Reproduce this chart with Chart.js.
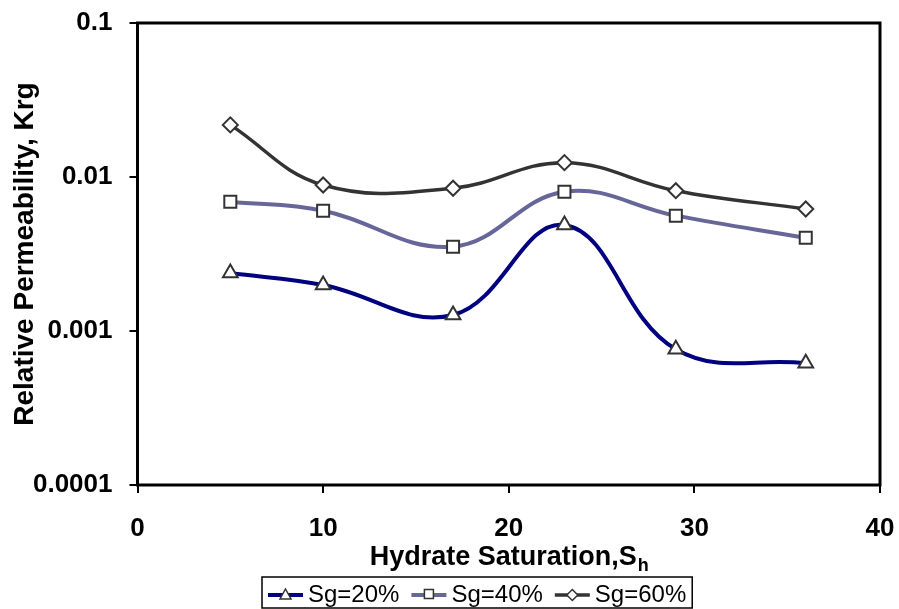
<!DOCTYPE html>
<html>
<head>
<meta charset="utf-8">
<script src="https://cdn.jsdelivr.net/npm/chart.js@4.4.0/dist/chart.umd.min.js"></script>
<style>
  html, body { margin: 0; padding: 0; background: #fff; }
  canvas { display: block; }
</style>
</head>
<body>
<canvas id="krg" width="899" height="609"></canvas>
<script>
// values
const hydrateSat = [5, 10, 17, 23, 29, 36];
const krgSg20 = [0.00238, 0.00199, 0.00127, 0.00488, 0.000761, 0.000617];
const krgSg40 = [0.00691, 0.00604, 0.00353, 0.00803, 0.00561, 0.00403];
const krgSg60 = [0.0218, 0.00887, 0.00845, 0.01239, 0.00815, 0.0062];
const yTicks = [0.0001, 0.001, 0.01, 0.1];
const xTicks = [0, 10, 20, 30, 40];
const seriesNames = ['Sg=20%', 'Sg=40%', 'Sg=60%'];

const FONT = "'Liberation Sans', Arial, sans-serif";

function toPoints(ys) {
    return hydrateSat.map((x, i) => ({ x: x, y: ys[i] }));
}

function series(label, ys, color, width, marker, radius) {
    return {
        label: label,
        data: toPoints(ys),
        borderColor: color,
        borderWidth: width,
        pointStyle: marker,
        pointRadius: radius,
        pointHoverRadius: radius,
        pointBackgroundColor: '#fff',
        pointBorderColor: '#333',
        pointBorderWidth: 2,
        tension: 0.4,
        fill: false
    };
}

// frame round the plot area + x title with subscript
const framePlugin = {
    id: 'frame',
    afterDraw(chart) {
        const { ctx, chartArea: a } = chart;
        ctx.save();
        ctx.strokeStyle = '#000';
        ctx.lineWidth = 3;
        ctx.strokeRect(a.left, a.top, a.right - a.left, a.bottom - a.top);

        // x axis title
        ctx.fillStyle = '#000';
        ctx.textBaseline = 'alphabetic';
        ctx.font = 'bold 27px ' + FONT;
        const main = 'Hydrate Saturation,S';
        const wMain = ctx.measureText(main).width;
        ctx.font = 'bold 18px ' + FONT;
        const wSub = ctx.measureText('h').width;
        const cx = (a.left + a.right) / 2;
        const x0 = cx - (wMain + wSub) / 2;
        ctx.font = 'bold 27px ' + FONT;
        ctx.textAlign = 'left';
        ctx.fillText(main, x0, 565);
        ctx.font = 'bold 18px ' + FONT;
        ctx.fillText('h', x0 + wMain + 1, 571);
        ctx.restore();
    }
};

// legend box below the chart: line + marker + label
const legendPlugin = {
    id: 'boxLegend',
    afterDraw(chart) {
        const ctx = chart.ctx;
        const y = 595;
        let x = 268;
        ctx.save();
        ctx.font = '24px ' + FONT;
        ctx.textBaseline = 'middle';
        ctx.textAlign = 'left';
        const boxLeft = 262;
        chart.data.datasets.forEach((ds, i) => {
            ctx.strokeStyle = ds.borderColor;
            ctx.lineWidth = ds.borderWidth;
            ctx.beginPath();
            ctx.moveTo(x, y);
            ctx.lineTo(x + 35, y);
            ctx.stroke();

            const mx = x + 17.5;
            ctx.beginPath();
            if (ds.pointStyle === 'triangle') {
                ctx.moveTo(mx, y - 6);
                ctx.lineTo(mx + 5.5, y + 4);
                ctx.lineTo(mx - 5.5, y + 4);
                ctx.closePath();
            } else if (ds.pointStyle === 'rect') {
                ctx.rect(mx - 4.5, y - 5.5, 9, 9);
            } else {
                ctx.moveTo(mx, y - 5.5);
                ctx.lineTo(mx + 5.5, y);
                ctx.lineTo(mx, y + 5.5);
                ctx.lineTo(mx - 5.5, y);
                ctx.closePath();
            }
            ctx.fillStyle = '#fff';
            ctx.fill();
            ctx.strokeStyle = '#333';
            ctx.lineWidth = 1.5;
            ctx.stroke();

            ctx.fillStyle = '#000';
            ctx.fillText(seriesNames[i], x + 40, y);
            x += 40 + ctx.measureText(seriesNames[i]).width + 12;
        });
        const boxRight = x - 12 + 6;
        ctx.strokeStyle = '#000';
        ctx.lineWidth = 1.5;
        ctx.strokeRect(boxLeft, 577, boxRight - boxLeft, 31);
        ctx.restore();
    }
};

new Chart(document.getElementById('krg'), {
    type: 'line',
    data: {
        datasets: [
            series(seriesNames[0], krgSg20, '#000080', 4, 'triangle', 8.5),
            series(seriesNames[1], krgSg40, '#666699', 4, 'rect', 8.5),
            series(seriesNames[2], krgSg60, '#333333', 3.5, 'rectRot', 7.5)
        ]
    },
    options: {
        responsive: false,
        animation: false,
        devicePixelRatio: 1,
        layout: { padding: { left: 0, right: 19, top: 23, bottom: 0 } },
        plugins: {
            legend: { display: false },
            tooltip: { enabled: false }
        },
        scales: {
            x: {
                type: 'linear',
                min: 0,
                max: 40,
                afterBuildTicks: s => { s.ticks = xTicks.map(v => ({ value: v })); },
                afterFit: s => {
                    s.height = 124;
                    s.paddingLeft = 0;
                    s.paddingRight = 0;
                },
                border: { display: false },
                grid: { drawOnChartArea: false, drawTicks: true, tickLength: 8, color: '#000', lineWidth: 2 },
                ticks: {
                    padding: 20,
                    color: '#000',
                    font: { family: FONT, size: 26, weight: 'bold' }
                }
            },
            y: {
                type: 'logarithmic',
                min: 0.0001,
                max: 0.1,
                afterBuildTicks: s => { s.ticks = yTicks.map(v => ({ value: v })); },
                afterFit: s => {
                    s.width = 137.5;
                    s.paddingTop = 0;
                    s.paddingBottom = 0;
                },
                border: { display: false },
                grid: { drawOnChartArea: false, drawTicks: true, tickLength: 8, color: '#000', lineWidth: 2 },
                ticks: {
                    padding: 17,
                    color: '#000',
                    font: { family: FONT, size: 26, weight: 'bold' },
                    callback: v => String(v)
                },
                title: {
                    display: true,
                    text: 'Relative Permeability, Krg',
                    color: '#000',
                    padding: { top: 8, bottom: 0 },
                    font: { family: FONT, size: 28, weight: 'bold' }
                }
            }
        }
    },
    plugins: [framePlugin, legendPlugin]
});
</script>
</body>
</html>
